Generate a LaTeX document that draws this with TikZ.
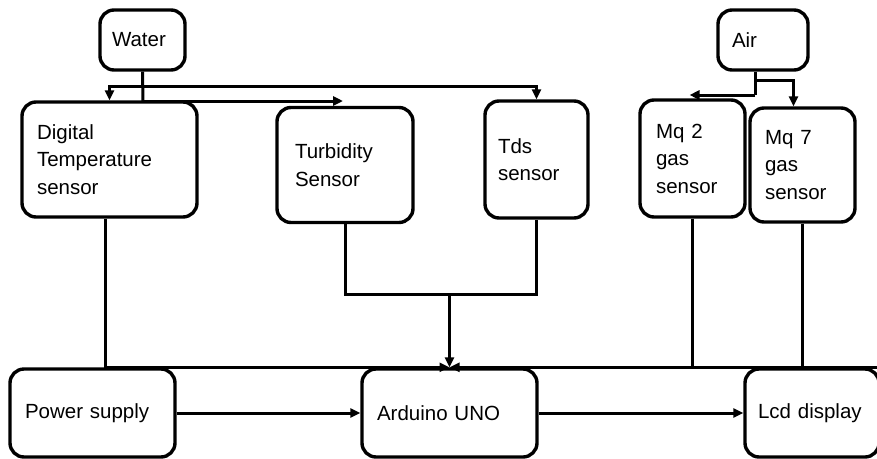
\documentclass[tikz,border=0pt]{standalone}
\usepackage{fontspec}
\setmainfont{Liberation Sans}
\usetikzlibrary{arrows.meta, positioning}

\begin{document}
\begin{tikzpicture}[
    x=1pt, y=-1pt,
    box/.style={
        rectangle,
        draw,
        rounded corners=14pt,
        line width=3.4pt,
        align=left,
        inner ysep=0pt,
        font=\fontsize{20.5}{27.5}\selectfont
    },
    wireLine/.style={line width=3pt},
    flowArrow/.style={wireLine, -{Triangle[length=10pt, width=9pt]}}
]
    \useasboundingbox (0,0) rectangle (877,458);

    % Sources (top)
    \node[box, text width=61pt, inner xsep=12pt, minimum height=60pt] (water) at (142.5,40) {Water};
    \node[box, text width=62pt, inner xsep=14pt, minimum height=60pt] (air) at (763,40) {Air};

    % Sensors
    \node[box, text width=145pt, inner xsep=15pt, minimum height=115pt] (digital) at (109.5,159.5) {Digital\\Temperature\\sensor};
    \node[box, text width=100pt, inner xsep=18pt, minimum height=115pt] (turbidity) at (345,165) {Turbidity\\Sensor};
    \node[box, text width=77pt, inner xsep=13pt, minimum height=117pt] (tds) at (536.5,159.5) {Tds\\sensor};
    \node[box, text width=73pt, inner xsep=16pt, minimum height=117pt] (mqtwo) at (692.5,158.5) {Mq 2\\gas\\sensor};
    \node[box, text width=75pt, inner xsep=15pt, minimum height=114pt] (mqseven) at (802.5,165) {Mq 7\\gas\\sensor};

    % Bottom row
    \node[box, text width=135pt, inner xsep=15pt, minimum height=88pt] (power) at (92.5,413) {Power supply};
    \node[box, text width=145pt, inner xsep=15pt, minimum height=88pt] (arduino) at (449.5,413) {Arduino UNO};
    \node[box, text width=108pt, inner xsep=13pt, minimum height=88pt] (lcd) at (812,413) {Lcd display};

    % Junction points
    \coordinate (wbus) at (143,86);
    \coordinate (wtap) at (143,101);
    \coordinate (atap) at (755,80);
    \coordinate (atapLow) at (755,95);
    \coordinate (sjoin) at (449.5,294);

    % Water to sensors
    \draw[wireLine] (water.south) -- (wtap);
    \draw[flowArrow] (wbus) -| (digital.north);
    \draw[flowArrow] (wbus) -| (tds.north);
    \draw[flowArrow] (wtap) -- ([xshift=-2pt]turbidity.north |- wtap);

    % Air to sensors
    \draw[wireLine] (air.south -| atap) -- (atapLow);
    \draw[flowArrow] (atap) -| ([xshift=-9pt]mqseven.north);
    \draw[flowArrow] (atapLow) -- ([xshift=-3pt]mqtwo.north |- atapLow);

    % Sensors to Arduino
    \draw[wireLine] (turbidity.south) |- (sjoin) -| (tds.south);
    \draw[flowArrow] (sjoin) -- (arduino.north);
    \draw[flowArrow] ([xshift=-4pt]digital.south) |- (arduino.north);
    \draw[flowArrow] (lcd.north east) -- (arduino.north);
    \draw[wireLine] (mqtwo.south) -- (mqtwo.south |- arduino.north);
    \draw[wireLine] (mqseven.south) -- (mqseven.south |- arduino.north);

    % Power and display
    \draw[flowArrow] (power.east) -- (arduino.west);
    \draw[flowArrow] (arduino.east) -- (lcd.west);
\end{tikzpicture}
\end{document}
